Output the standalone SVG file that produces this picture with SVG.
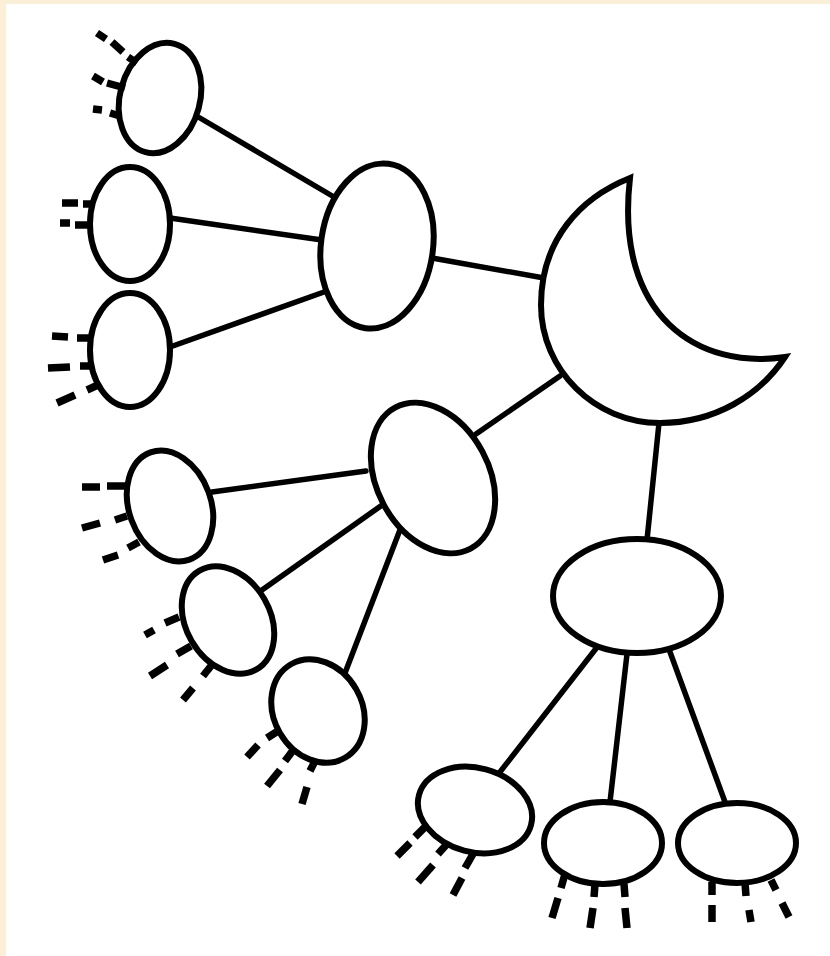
<svg xmlns="http://www.w3.org/2000/svg" width="830" height="956" viewBox="0 0 830 956">
<style>
.n{fill:#fff;stroke:#000;stroke-width:6}
.c line{stroke:#000;stroke-width:5.5;stroke-linecap:round}
.d line{stroke:#000;stroke-width:7.5;stroke-linecap:butt}
</style>
<rect width="830" height="956" fill="#fff"/>
<rect x="0" y="0" width="6" height="956" fill="#fbefd8"/>
<rect x="0" y="0" width="830" height="4" fill="#fbefd8"/>
<g id="connectors" class="c">
<line x1="200" y1="118" x2="334" y2="197"/>
<line x1="170" y1="218" x2="322" y2="240"/>
<line x1="170" y1="347" x2="324" y2="292"/>
<line x1="432" y1="258" x2="544" y2="278"/>
<line x1="476" y1="434" x2="560" y2="376"/>
<line x1="659" y1="423" x2="647" y2="540"/>
<line x1="212" y1="492" x2="366" y2="471"/>
<line x1="262" y1="590" x2="385" y2="503"/>
<line x1="345" y1="673" x2="403" y2="522"/>
<line x1="500" y1="772" x2="598" y2="646"/>
<line x1="610" y1="802" x2="627" y2="654"/>
<line x1="725" y1="802" x2="670" y2="652"/>
</g>
<g id="moon"><path class="n" stroke-linejoin="miter" d="M 630 178 C 580 198 541 240 541 305 C 541 370 595 423 660 423 C 715 423 760 395 785 357 C 700 370 614 318 630 178 Z"/></g>
<g id="nodeA"><ellipse class="n" cx="160" cy="98" rx="40" ry="56" transform="rotate(15 160 98)"/>
<g class="d"><line x1="97" y1="33" x2="106" y2="39"/><line x1="112" y1="42" x2="123" y2="52"/><line x1="128" y1="57" x2="137" y2="63"/><line x1="93" y1="76" x2="103" y2="82"/><line x1="107" y1="83" x2="125" y2="88"/><line x1="93" y1="109" x2="102" y2="110"/><line x1="110" y1="113" x2="120" y2="116"/></g></g>
<g id="nodeB"><ellipse class="n" cx="130" cy="224" rx="40" ry="57"/>
<g class="d"><line x1="62" y1="203" x2="78" y2="203"/><line x1="83" y1="204" x2="94" y2="204"/><line x1="60" y1="223" x2="70" y2="223"/><line x1="75" y1="225" x2="93" y2="225"/></g></g>
<g id="nodeC"><ellipse class="n" cx="130" cy="350" rx="40" ry="57"/>
<g class="d"><line x1="52" y1="336" x2="68" y2="337"/><line x1="77" y1="338" x2="93" y2="338"/><line x1="48" y1="368" x2="70" y2="367"/><line x1="80" y1="366" x2="93" y2="366"/><line x1="57" y1="403" x2="75" y2="395"/><line x1="87" y1="390" x2="98" y2="385"/></g></g>
<g id="nodeD"><ellipse class="n" cx="377" cy="246" rx="56" ry="83" transform="rotate(8 377 246)"/></g>
<g id="nodeE"><ellipse class="n" cx="433" cy="478" rx="56" ry="80" transform="rotate(-28 433 478)"/></g>
<g id="nodeF"><ellipse class="n" cx="637" cy="596" rx="84" ry="57"/></g>
<g id="nodeG"><ellipse class="n" cx="170" cy="506" rx="41" ry="57" transform="rotate(-20 170 506)"/>
<g class="d"><line x1="82" y1="487" x2="100" y2="487"/><line x1="107" y1="486" x2="125" y2="486"/><line x1="82" y1="528" x2="100" y2="523"/><line x1="115" y1="520" x2="127" y2="516"/><line x1="103" y1="560" x2="118" y2="555"/><line x1="128" y1="548" x2="139" y2="542"/></g></g>
<g id="nodeH"><ellipse class="n" cx="228" cy="620" rx="42" ry="57" transform="rotate(-30 228 620)"/>
<g class="d"><line x1="145" y1="635" x2="154" y2="630"/><line x1="165" y1="623" x2="179" y2="617"/><line x1="150" y1="676" x2="167" y2="665"/><line x1="177" y1="654" x2="191" y2="646"/><line x1="183" y1="700" x2="193" y2="688"/><line x1="203" y1="676" x2="211" y2="666"/></g></g>
<g id="nodeI"><ellipse class="n" cx="318" cy="711" rx="44" ry="54" transform="rotate(-30 318 711)"/>
<g class="d"><line x1="247" y1="757" x2="258" y2="745"/><line x1="267" y1="738" x2="278" y2="731"/><line x1="267" y1="786" x2="280" y2="770"/><line x1="285" y1="761" x2="294" y2="749"/><line x1="302" y1="804" x2="307" y2="787"/><line x1="310" y1="771" x2="316" y2="759"/></g></g>
<g id="nodeJ"><ellipse class="n" cx="475" cy="810" rx="58" ry="42" transform="rotate(15 475 810)"/>
<g class="d"><line x1="397" y1="856" x2="410" y2="843"/><line x1="415" y1="837" x2="426" y2="826"/><line x1="418" y1="882" x2="433" y2="865"/><line x1="438" y1="854" x2="447" y2="844"/><line x1="453" y1="895" x2="462" y2="878"/><line x1="465" y1="868" x2="473" y2="854"/></g></g>
<g id="nodeK"><ellipse class="n" cx="603" cy="843" rx="59" ry="41"/>
<g class="d"><line x1="552" y1="918" x2="558" y2="898"/><line x1="561" y1="888" x2="565" y2="874"/><line x1="590" y1="928" x2="593" y2="908"/><line x1="594" y1="897" x2="595" y2="884"/><line x1="627" y1="928" x2="625" y2="908"/><line x1="625" y1="897" x2="624" y2="884"/></g></g>
<g id="nodeL"><ellipse class="n" cx="737" cy="843" rx="59" ry="40"/>
<g class="d"><line x1="712" y1="922" x2="712" y2="905"/><line x1="712" y1="895" x2="712" y2="882"/><line x1="751" y1="922" x2="749" y2="910"/><line x1="746" y1="896" x2="745" y2="883"/><line x1="789" y1="917" x2="782" y2="903"/><line x1="776" y1="890" x2="771" y2="880"/></g></g>
</svg>
